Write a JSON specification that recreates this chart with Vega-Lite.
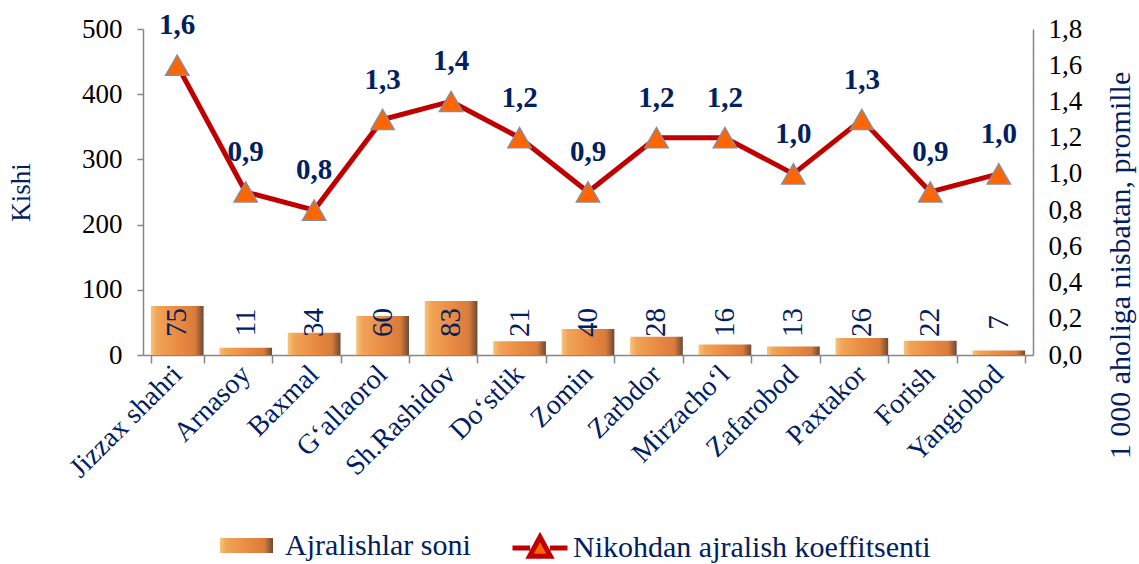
{
  "$schema": "https://vega.github.io/schema/vega-lite/v6.json",
  "width": 890,
  "height": 326,
  "autosize": {"type": "none"},
  "padding": {"left": 143, "top": 29, "right": 106, "bottom": 209},
  "background": "white",
  "data": {
    "values": [
      {"r": "Jizzax shahri", "n": 75, "k": 1.6, "s1": "Ajralishlar soni", "s2": "Nikohdan ajralish koeffitsenti"},
      {"r": "Arnasoy", "n": 11, "k": 0.9, "s1": "Ajralishlar soni", "s2": "Nikohdan ajralish koeffitsenti"},
      {"r": "Baxmal", "n": 34, "k": 0.8, "s1": "Ajralishlar soni", "s2": "Nikohdan ajralish koeffitsenti"},
      {"r": "G‘allaorol", "n": 60, "k": 1.3, "s1": "Ajralishlar soni", "s2": "Nikohdan ajralish koeffitsenti"},
      {"r": "Sh.Rashidov", "n": 83, "k": 1.4, "s1": "Ajralishlar soni", "s2": "Nikohdan ajralish koeffitsenti"},
      {"r": "Do‘stlik", "n": 21, "k": 1.2, "s1": "Ajralishlar soni", "s2": "Nikohdan ajralish koeffitsenti"},
      {"r": "Zomin", "n": 40, "k": 0.9, "s1": "Ajralishlar soni", "s2": "Nikohdan ajralish koeffitsenti"},
      {"r": "Zarbdor", "n": 28, "k": 1.2, "s1": "Ajralishlar soni", "s2": "Nikohdan ajralish koeffitsenti"},
      {"r": "Mirzacho‘l", "n": 16, "k": 1.2, "s1": "Ajralishlar soni", "s2": "Nikohdan ajralish koeffitsenti"},
      {"r": "Zafarobod", "n": 13, "k": 1.0, "s1": "Ajralishlar soni", "s2": "Nikohdan ajralish koeffitsenti"},
      {"r": "Paxtakor", "n": 26, "k": 1.3, "s1": "Ajralishlar soni", "s2": "Nikohdan ajralish koeffitsenti"},
      {"r": "Forish", "n": 22, "k": 0.9, "s1": "Ajralishlar soni", "s2": "Nikohdan ajralish koeffitsenti"},
      {"r": "Yangiobod", "n": 7, "k": 1.0, "s1": "Ajralishlar soni", "s2": "Nikohdan ajralish koeffitsenti"}
    ]
  },
  "encoding": {
    "x": {
      "field": "r",
      "type": "nominal",
      "sort": null,
      "scale": {"paddingInner": 0.23, "paddingOuter": 0.115},
      "axis": {
        "title": null,
        "labelAngle": -45,
        "labelAlign": "right",
        "labelBaseline": "middle",
        "labelColor": "#002060",
        "labelFontSize": 28,
        "labelFont": "Liberation Serif",
        "labelPadding": 7,
        "labelOverlap": false,
        "labelLimit": 300,
        "tickBand": "extent",
        "tickSize": 8,
        "tickColor": "#868686",
        "domainColor": "#868686",
        "domainWidth": 1.5,
        "tickWidth": 1.5
      }
    }
  },
  "layer": [
    {
      "layer": [
        {
          "mark": {
            "type": "bar",
            "fill": {
              "gradient": "linear",
              "x1": 0, "y1": 0, "x2": 1, "y2": 0,
              "stops": [
                {"offset": 0, "color": "#f7c47e"},
                {"offset": 0.12, "color": "#f1a457"},
                {"offset": 0.5, "color": "#ea8c43"},
                {"offset": 0.84, "color": "#d97b3b"},
                {"offset": 1, "color": "#6b4a36"}
              ]
            }
          },
          "encoding": {
            "y": {
              "field": "n",
              "type": "quantitative",
              "scale": {"domain": [0, 500]},
              "axis": {
                "orient": "left",
                "title": "Kishi",
                "titleColor": "#002060",
                "titleFont": "Liberation Serif",
                "titleFontSize": 27,
                "titleFontWeight": "normal",
                "titlePadding": 46,
                "values": [0, 100, 200, 300, 400, 500],
                "labelColor": "#000000",
                "labelFont": "Liberation Serif",
                "labelFontSize": 27,
                "labelPadding": 15,
                "labelOverlap": false,
                "tickSize": 6,
                "tickColor": "#868686",
                "domainColor": "#868686",
                "domainWidth": 1.5,
                "tickWidth": 1.5,
                "grid": false
              }
            },
            "opacity": {
              "field": "s1",
              "type": "nominal",
              "scale": {"range": [1, 1]},
              "legend": {
                "orient": "none",
                "legendX": 77,
                "legendY": 490,
                "title": null,
                "padding": 0,
                "symbolType": "M-1,-0.28H1V0.28H-1Z",
                "symbolSize": 2809,
                "symbolStrokeWidth": 0,
                "labelFont": "Liberation Serif",
                "labelFontSize": 30,
                "labelColor": "#002060",
                "labelOffset": 12,
                "labelLimit": 400,
                "encode": {
                  "symbols": {
                    "update": {
                      "fill": {
                        "value": {
                          "gradient": "linear",
                          "x1": 0, "y1": 0, "x2": 1, "y2": 0,
                          "stops": [
                            {"offset": 0, "color": "#f7c47e"},
                            {"offset": 0.12, "color": "#f1a457"},
                            {"offset": 0.5, "color": "#ea8c43"},
                            {"offset": 0.84, "color": "#d97b3b"},
                            {"offset": 1, "color": "#6b4a36"}
                          ]
                        }
                      },
                      "opacity": {"value": 1},
                      "strokeWidth": {"value": 0}
                    }
                  }
                }
              }
            }
          }
        },
        {
          "mark": {
            "type": "text",
            "angle": 270,
            "align": "center",
            "baseline": "middle",
            "font": "Liberation Serif",
            "fontSize": 29,
            "color": "#002060"
          },
          "encoding": {
            "y": {"datum": 50, "type": "quantitative"},
            "text": {"field": "n", "type": "quantitative"}
          }
        }
      ]
    },
    {
      "layer": [
        {
          "mark": {"type": "line", "strokeWidth": 5},
          "encoding": {
            "y": {
              "field": "k",
              "type": "quantitative",
              "scale": {"domain": [0, 1.8]},
              "axis": {
                "orient": "right",
                "title": "1 000 aholiga nisbatan, promille",
                "titleColor": "#002060",
                "titleFont": "Liberation Serif",
                "titleFontSize": 30,
                "titleFontWeight": "normal",
                "titleAngle": 270,
                "titleAlign": "center",
                "titleBaseline": "middle",
                "titleX": 87,
                "titleY": 236,
                "tickCount": 10,
                "labelExpr": "replace(format(datum.value, '.1f'), '.', ',')",
                "labelColor": "#000000",
                "labelFont": "Liberation Serif",
                "labelFontSize": 27,
                "labelPadding": 15,
                "labelOverlap": false,
                "labelSeparation": -20,
                "ticks": false,
                "domainColor": "#868686",
                "domainWidth": 1.5,
                "grid": false
              }
            },
            "stroke": {
              "field": "s2",
              "type": "nominal",
              "scale": {"range": ["#c00000"]},
              "legend": {
                "orient": "none",
                "legendX": 367,
                "legendY": 489,
                "title": null,
                "padding": 0,
                "symbolType": "M-1,0H-0.36M0.36,0H1M0,-0.4L0.38,0.3H-0.38Z",
                "symbolSize": 3025,
                "symbolStrokeWidth": 5,
                "symbolFillColor": "#ff6600",
                "labelFont": "Liberation Serif",
                "labelFontSize": 30,
                "labelColor": "#002060",
                "labelOffset": 3,
                "labelLimit": 500,
                "encode": {"symbols": {"update": {"fill": {"value": "#ff6600"}, "stroke": {"value": "#c00000"}}}}
              }
            }
          }
        },
        {
          "mark": {
            "type": "point",
            "shape": "triangle-up",
            "filled": true,
            "fill": "#ff6600",
            "stroke": "#8a8a9a",
            "strokeWidth": 1.5,
            "size": 540,
            "opacity": 1
          },
          "encoding": {"y": {"field": "k", "type": "quantitative"}}
        },
        {
          "mark": {
            "type": "text",
            "dy": -31,
            "baseline": "alphabetic",
            "font": "Liberation Serif",
            "fontSize": 29,
            "fontWeight": "bold",
            "color": "#002060"
          },
          "encoding": {
            "y": {"field": "k", "type": "quantitative"},
            "text": {"field": "k", "type": "quantitative", "format": ".1f"}
          }
        }
      ]
    }
  ],
  "resolve": {"scale": {"y": "independent", "opacity": "independent", "stroke": "independent"}},
  "config": {
    "view": {"stroke": null},
    "font": "Liberation Serif",
    "axis": {"labelOverlap": false},
    "legend": {"labelFont": "Liberation Serif"},
    "locale": {
      "number": {"decimal": ",", "thousands": " ", "grouping": [3], "currency": ["", ""]}
    }
  }
}
